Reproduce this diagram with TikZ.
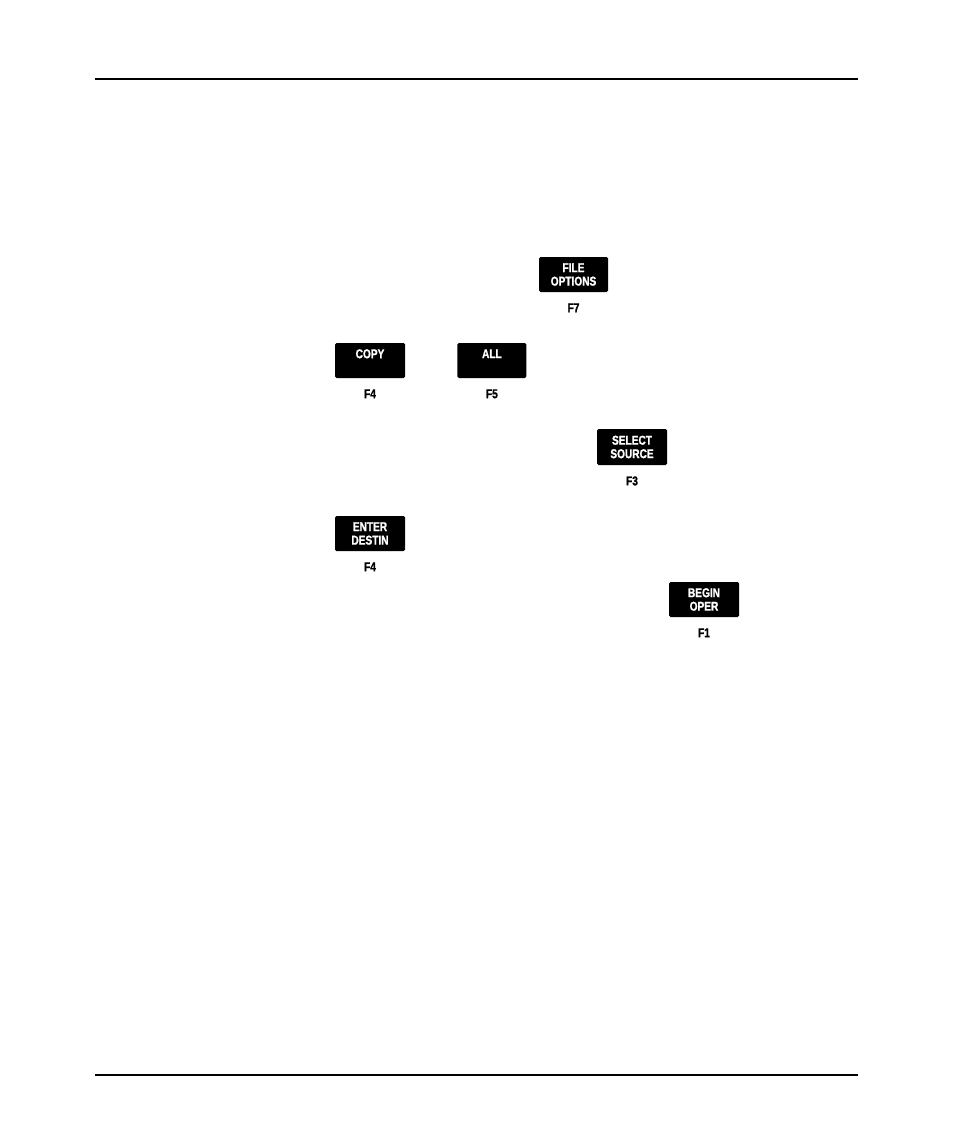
\documentclass[tikz,border=0pt]{standalone}
\usepackage{fontspec}
\usepackage{tikz}
\usetikzlibrary{positioning}
\newfontfamily\keyfont{Liberation Sans}[FakeStretch=0.79, BoldFeatures={FakeBold=1.2}]

\begin{document}
\begin{tikzpicture}[
  x=1pt, y=1pt,
  node distance=11pt and 52pt,
  softkey/.style={fill=black, text=white, rounded corners=1.5pt, minimum height=35pt, minimum width=70pt, inner sep=0pt, align=center, font=\keyfont\bfseries\fontsize{12.8}{13.5}\selectfont},
  fnlabel/.style={inner sep=0pt, font=\keyfont\bfseries\fontsize{12.8}{13}\selectfont},
  rule/.style={line width=2pt}
]
\useasboundingbox (0,0) rectangle (954,-1145);

% page rules
\draw[rule] (95,-79) -- (858,-79);
\draw[rule] (95,-1075) -- (858,-1075);

% keys
\node[softkey, minimum width=69pt] (fileopt) at (573.5,-274.5) {FILE\\OPTIONS};
\node[fnlabel, below=of fileopt] (f7) {F7};

\node[softkey] (copy) at (370,-360.5) {COPY\\\phantom{X}};
\node[fnlabel, below=of copy] (f4a) {F4};
\node[softkey, minimum width=69pt, right=of copy] (all) {ALL\\\phantom{X}};
\node[fnlabel, below=of all] (f5) {F5};

\node[softkey, minimum height=36pt] (selsrc) at (632,-447) {SELECT\\SOURCE};
\node[fnlabel, below=of selsrc] (f3) {F3};

\node[softkey] (enterdest) at (370,-533.5) {ENTER\\DESTIN};
\node[fnlabel, below=of enterdest] (f4b) {F4};

\node[softkey] (beginoper) at (704,-599.5) {BEGIN\\OPER};
\node[fnlabel, below=of beginoper] (f1) {F1};
\end{tikzpicture}
\end{document}
